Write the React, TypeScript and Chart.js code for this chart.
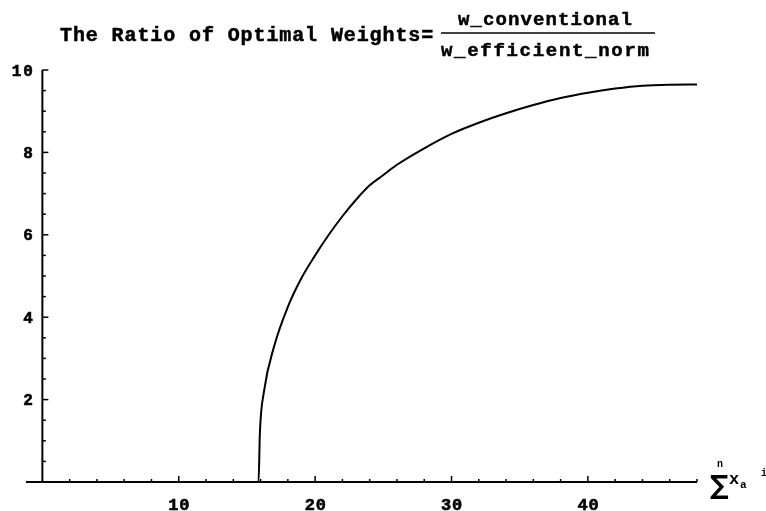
import React, { useEffect, useRef } from "react";
import { Chart, registerables } from "chart.js";

Chart.register(...registerables);

// ---- data ----
const curveX = [0, 15.85, 15.95, 16.25, 17, 18, 19, 20, 21, 22, 23, 24, 25, 26, 28, 30, 32, 34, 36, 38, 40, 42, 44, 46, 48];
const curveY = [0, 0, 1.2, 2.2, 3.3, 4.25, 4.95, 5.5, 6.0, 6.45, 6.85, 7.2, 7.45, 7.7, 8.1, 8.45, 8.72, 8.95, 9.15, 9.32, 9.45, 9.55, 9.62, 9.645, 9.65];

const xMajorTicks = [10, 20, 30, 40];
const xTickLabels = ["10", "20", "30", "40"];
const xMinorTicks = [2, 4, 6, 8, 12, 14, 16, 18, 22, 24, 26, 28, 32, 34, 36, 38, 42, 44, 46, 48];
const yMajorTicks = [2, 4, 6, 8, 10];
const yTickLabels = ["2", "4", "6", "8", "10"];
const yMinorTicks = [0.5, 1, 1.5, 2.5, 3, 3.5, 4.5, 5, 5.5, 6.5, 7, 7.5, 8.5, 9, 9.5];

const titleMain = "The Ratio of Optimal Weights=";
const titleNum = "w_conventional";
const titleDen = "w_efficient_norm";

const MONO = "'Liberation Mono', 'DejaVu Sans Mono', monospace";

function drawSpaced(ctx: CanvasRenderingContext2D, text: string, x: number, y: number, advance: number, heavy = 0.6) {
  // fixed advance per character, slightly emboldened (old bitmap look)
  ctx.lineWidth = heavy;
  for (let i = 0; i < text.length; i++) {
    ctx.fillText(text[i], x + i * advance, y);
    if (heavy > 0) ctx.strokeText(text[i], x + i * advance, y);
  }
}

const axesPlugin = {
  id: "mmaAxes",
  beforeDatasetsDraw(chart: any) {
    const ctx: CanvasRenderingContext2D = chart.ctx;
    const xs = chart.scales.x;
    const ys = chart.scales.y;
    const x0 = xs.getPixelForValue(0);
    const y0 = ys.getPixelForValue(0);
    ctx.save();
    ctx.strokeStyle = "#000";
    ctx.fillStyle = "#000";
    ctx.lineCap = "butt";
    // x axis
    ctx.lineWidth = 2;
    ctx.beginPath();
    ctx.moveTo(xs.getPixelForValue(xs.min), y0);
    ctx.lineTo(xs.getPixelForValue(xs.max), y0);
    ctx.stroke();
    // y axis
    ctx.beginPath();
    ctx.moveTo(x0, y0);
    ctx.lineTo(x0, ys.getPixelForValue(ys.max));
    ctx.stroke();
    // x ticks
    ctx.lineWidth = 1.5;
    for (const v of xMajorTicks) {
      const px = xs.getPixelForValue(v);
      ctx.beginPath();
      ctx.moveTo(px, y0);
      ctx.lineTo(px, y0 - 6);
      ctx.stroke();
    }
    for (const v of xMinorTicks) {
      const px = xs.getPixelForValue(v);
      ctx.beginPath();
      ctx.moveTo(px, y0);
      ctx.lineTo(px, y0 - 3);
      ctx.stroke();
    }
    // y ticks
    for (const v of yMajorTicks) {
      const py = ys.getPixelForValue(v);
      ctx.beginPath();
      ctx.moveTo(x0, py);
      ctx.lineTo(x0 + 6, py);
      ctx.stroke();
    }
    for (const v of yMinorTicks) {
      const py = ys.getPixelForValue(v);
      ctx.beginPath();
      ctx.moveTo(x0, py);
      ctx.lineTo(x0 + 3.5, py);
      ctx.stroke();
    }
    // tick labels
    ctx.textBaseline = "alphabetic";
    ctx.font = `bold 17px ${MONO}`;
    xTickLabels.forEach((t, i) => {
      const px = xs.getPixelForValue(xMajorTicks[i]);
      const adv = 11;
      const w = adv * t.length;
      drawSpaced(ctx, t, px - w / 2 + 0.5, y0 + 28, adv);
    });
    ctx.font = `bold 16px ${MONO}`;
    yTickLabels.forEach((t, i) => {
      const py = ys.getPixelForValue(yMajorTicks[i]);
      const adv = 11.5;
      const w = adv * t.length;
      drawSpaced(ctx, t, x0 - 9 - w + 1.5, py + 5.5, adv);
    });
    // title
    ctx.font = `bold 20px ${MONO}`;
    drawSpaced(ctx, titleMain, 60, 41, 12.9, 0.5);
    ctx.font = `bold 19px ${MONO}`;
    drawSpaced(ctx, titleNum, 458, 25, 12.5, 0.5);
    ctx.font = `bold 19px ${MONO}`;
    drawSpaced(ctx, titleDen, 441, 56, 13.1, 0.5);
    ctx.lineWidth = 1.5;
    ctx.beginPath();
    ctx.moveTo(441, 33);
    ctx.lineTo(655, 33);
    ctx.stroke();
    // x axis label: sum^n x_a
    ctx.font = `bold 26px 'DejaVu Sans', sans-serif`;
    ctx.fillText("\u2211", 710, y0 + 12);
    ctx.font = `bold 10px ${MONO}`;
    ctx.fillText("n", 717, y0 - 15);
    ctx.font = `bold 17px ${MONO}`;
    ctx.fillText("x", 729, y0 + 2);
    ctx.font = `bold 11px ${MONO}`;
    ctx.fillText("a", 740, y0 + 6);
    ctx.font = `bold 10px ${MONO}`;
    ctx.fillText("i", 761, y0 - 6);
    ctx.restore();
  },
};

export default function App() {
  const ref = useRef<HTMLCanvasElement | null>(null);
  useEffect(() => {
    if (!ref.current) return;
    const points = curveX.map((x, i) => ({ x, y: curveY[i] }));
    const chart = new Chart(ref.current, {
      type: "line",
      data: {
        datasets: [
          {
            data: points,
            borderColor: "#000",
            borderWidth: 2,
            pointRadius: 0,
            cubicInterpolationMode: "monotone",
            fill: false,
          },
        ],
      },
      options: {
        responsive: false,
        animation: false,
        devicePixelRatio: 1,
        layout: { padding: { left: 26, right: 69, top: 70, bottom: 29 } },
        plugins: { legend: { display: false }, title: { display: false }, tooltip: { enabled: false } },
        scales: {
          x: { type: "linear", min: -1.2, max: 48, display: false },
          y: { type: "linear", min: 0, max: 10, display: false },
        },
      },
      plugins: [axesPlugin],
    });
    return () => chart.destroy();
  }, []);
  return (
    <div style={{ position: "fixed", left: 0, top: 0, width: 766, height: 511, background: "#fff" }}>
      <canvas ref={ref} width={766} height={511} />
    </div>
  );
}
